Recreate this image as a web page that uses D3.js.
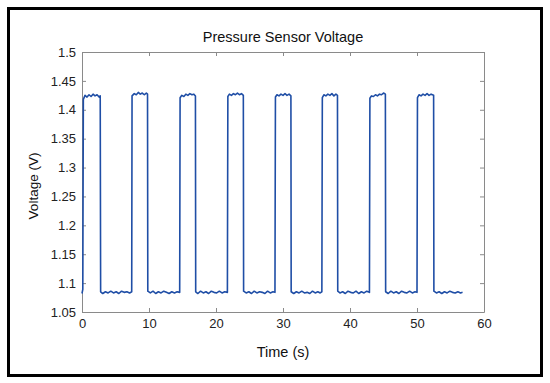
<!DOCTYPE html>
<html>
<head>
<meta charset="utf-8">
<script src="https://cdn.jsdelivr.net/npm/d3@7"></script>
<style>
    body { margin: 0; background: #fff; }
    svg { display: block; font-family: "Liberation Sans", Arial, sans-serif; }
    .axis path, .axis line { stroke: #8a8a8a; }
    .axis text { fill: #222; font-size: 13px; }
</style>
</head>
<body>
<svg id="chart" width="550" height="383"></svg>
<script>
const time = [
    0, 0.12, 0.2, 0.45, 0.75, 1.05, 1.35, 1.65, 1.95, 2.25, 2.55, 2.72, 2.78,
    3.1, 3.5, 3.9, 4.3, 4.7, 5.1, 5.5, 5.9, 6.3, 6.7, 7.1, 7.42,
    7.47, 7.8, 8.1, 8.4, 8.7, 9.0, 9.3, 9.6, 9.78, 9.82,
    10.2, 10.6, 11.0, 11.4, 11.8, 12.2, 12.6, 13.0, 13.4, 13.8, 14.2, 14.58,
    14.64, 14.9, 15.2, 15.5, 15.8, 16.1, 16.4, 16.7, 16.93, 16.97,
    17.3, 17.7, 18.1, 18.5, 18.9, 19.3, 19.7, 20.1, 20.5, 20.9, 21.3, 21.7,
    21.77, 22.0, 22.3, 22.6, 22.9, 23.2, 23.5, 23.8, 24.08, 24.12,
    24.5, 24.9, 25.3, 25.7, 26.1, 26.5, 26.9, 27.3, 27.7, 28.1, 28.5, 28.8,
    28.87, 29.1, 29.4, 29.7, 30.0, 30.3, 30.6, 30.9, 31.18, 31.22,
    31.6, 32.0, 32.4, 32.8, 33.2, 33.6, 34.0, 34.4, 34.8, 35.2, 35.55, 35.8,
    35.87, 36.1, 36.4, 36.7, 37.0, 37.3, 37.6, 37.9, 38.13, 38.17,
    38.5, 38.9, 39.3, 39.7, 40.1, 40.5, 40.9, 41.3, 41.7, 42.1, 42.5, 42.9,
    42.97, 43.2, 43.5, 43.8, 44.1, 44.4, 44.7, 45.0, 45.28, 45.32,
    45.7, 46.1, 46.5, 46.9, 47.3, 47.7, 48.1, 48.5, 48.9, 49.3, 49.7, 50.0,
    50.07, 50.3, 50.6, 50.9, 51.2, 51.5, 51.8, 52.1, 52.48, 52.52,
    52.9, 53.3, 53.7, 54.1, 54.5, 54.9, 55.3, 55.7, 56.1, 56.5, 56.8
];
const voltage = [
    1.082, 1.089, 1.418, 1.425, 1.422, 1.426, 1.423, 1.427, 1.424, 1.426, 1.422, 1.424, 1.085,
    1.082, 1.085, 1.083, 1.086, 1.083, 1.085, 1.082, 1.086, 1.084, 1.085, 1.083, 1.085,
    1.424, 1.428, 1.426, 1.430, 1.427, 1.429, 1.426, 1.429, 1.427, 1.086,
    1.083, 1.086, 1.082, 1.085, 1.083, 1.086, 1.084, 1.082, 1.085, 1.083, 1.085, 1.084,
    1.421, 1.425, 1.423, 1.427, 1.425, 1.428, 1.426, 1.427, 1.424, 1.085,
    1.082, 1.086, 1.083, 1.085, 1.082, 1.086, 1.084, 1.083, 1.086, 1.083, 1.085, 1.084,
    1.423, 1.427, 1.425, 1.428, 1.426, 1.429, 1.426, 1.428, 1.425, 1.086,
    1.083, 1.085, 1.082, 1.086, 1.083, 1.085, 1.084, 1.082, 1.086, 1.083, 1.085, 1.084,
    1.422, 1.426, 1.424, 1.427, 1.425, 1.428, 1.425, 1.427, 1.424, 1.085,
    1.082, 1.085, 1.083, 1.086, 1.083, 1.084, 1.082, 1.086, 1.083, 1.085, 1.083, 1.085,
    1.421, 1.426, 1.424, 1.427, 1.425, 1.428, 1.424, 1.427, 1.425, 1.086,
    1.083, 1.085, 1.082, 1.086, 1.084, 1.083, 1.086, 1.082, 1.085, 1.083, 1.086, 1.084,
    1.420, 1.424, 1.423, 1.426, 1.424, 1.427, 1.426, 1.429, 1.427, 1.085,
    1.082, 1.086, 1.083, 1.085, 1.082, 1.086, 1.084, 1.083, 1.086, 1.083, 1.085, 1.084,
    1.421, 1.426, 1.424, 1.427, 1.425, 1.428, 1.425, 1.427, 1.425, 1.086,
    1.083, 1.085, 1.082, 1.085, 1.083, 1.086, 1.084, 1.083, 1.085, 1.083, 1.084
];

const xTicks = [0, 10, 20, 30, 40, 50, 60];
const yTicks = [1.05, 1.1, 1.15, 1.2, 1.25, 1.3, 1.35, 1.4, 1.45, 1.5];
const yTickLabels = ["1.05", "1.1", "1.15", "1.2", "1.25", "1.3", "1.35", "1.4", "1.45", "1.5"];

const svg = d3.select("#chart");

// outer frame
svg.append("rect")
    .attr("x", 8.5).attr("y", 8.5)
    .attr("width", 533).attr("height", 367)
    .attr("fill", "none").attr("stroke", "#000").attr("stroke-width", 3);

const plotLeft = 82, plotTop = 52, plotRight = 484, plotBottom = 312;

let x = d3.scaleLinear().domain([0, 60]).range([plotLeft, plotRight]);
let y = d3.scaleLinear().domain([1.05, 1.5]).range([plotBottom, plotTop]);

// axes, ticks pointing inside
svg.append("g").attr("class", "axis")
    .attr("transform", `translate(0,${plotBottom})`)
    .call(d3.axisBottom(x).tickValues(xTicks).tickSizeInner(-4).tickSizeOuter(0).tickPadding(7));

svg.append("g").attr("class", "axis")
    .attr("transform", `translate(0,${plotTop})`)
    .call(d3.axisTop(x).tickValues(xTicks).tickSizeInner(-4).tickSizeOuter(0).tickFormat(""));

svg.append("g").attr("class", "axis")
    .attr("transform", `translate(${plotLeft},0)`)
    .call(d3.axisLeft(y).tickValues(yTicks).tickSizeInner(-4).tickSizeOuter(0).tickPadding(6)
        .tickFormat((d, i) => yTickLabels[i]));

svg.append("g").attr("class", "axis")
    .attr("transform", `translate(${plotRight},0)`)
    .call(d3.axisRight(y).tickValues(yTicks).tickSizeInner(-4).tickSizeOuter(0).tickFormat(""));

// signal trace
let line = d3.line()
    .x((d, i) => x(time[i]))
    .y((d, i) => y(voltage[i]));

svg.append("path")
    .datum(voltage)
    .attr("d", line)
    .attr("fill", "none")
    .attr("stroke", "#1f4ea6")
    .attr("stroke-width", 1.6)
    .attr("stroke-linejoin", "round");

// labels
svg.append("text")
    .attr("x", (plotLeft + plotRight) / 2).attr("y", 42)
    .attr("text-anchor", "middle")
    .style("font-size", "14.5px").attr("fill", "#111")
    .text("Pressure Sensor Voltage");

svg.append("text")
    .attr("x", (plotLeft + plotRight) / 2).attr("y", 357)
    .attr("text-anchor", "middle")
    .style("font-size", "14.5px").attr("fill", "#111")
    .text("Time (s)");

svg.append("text")
    .attr("transform", "translate(38,186) rotate(-90)")
    .attr("text-anchor", "middle")
    .style("font-size", "13.5px").attr("fill", "#111")
    .text("Voltage (V)");
</script>
</body>
</html>
